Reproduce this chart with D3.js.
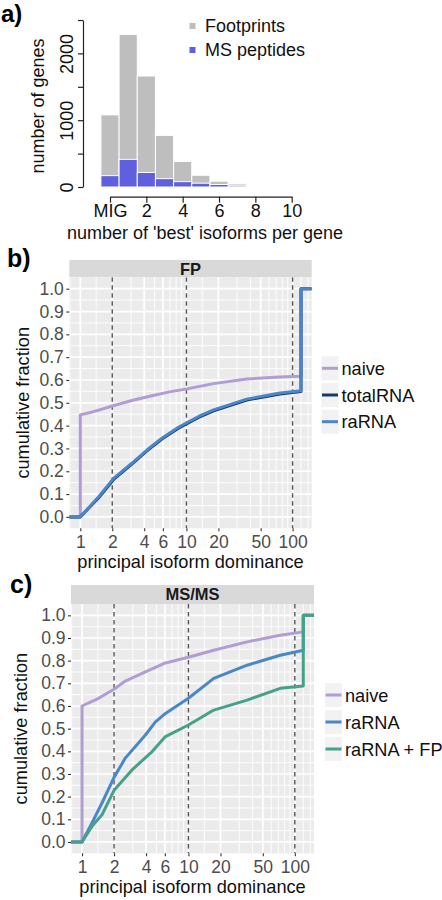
<!DOCTYPE html>
<html><head><meta charset="utf-8">
<script src="https://cdn.jsdelivr.net/npm/d3@7"></script>
<style>
html,body{margin:0;padding:0;background:#fff;}
text{font-family:"Liberation Sans",Arial,Helvetica,sans-serif;}
</style></head>
<body>
<svg id="chart" width="442" height="900"></svg>
<script>
// ---------- DATA ----------
// panel a
const barPositions = [0, 1, 2, 3, 4, 5, 6, 7];
const footprints = [1080, 2284, 1662, 773, 382, 176, 87, 55];
const msPeptides = [170, 414, 218, 125, 80, 57, 38, 22];
const aXTicks = [0, 2, 4, 6, 8, 10];
const aXTickLabels = ["MIG", "2", "4", "6", "8", "10"];
const aYTicks = [0, 500, 1000, 1500, 2000, 2500];
const aYTickLabels = ["0", "", "1000", "", "2000", ""];
const aLegend = ["Footprints", "MS peptides"];

// panels b / c shared axis
const logBreaks = [1, 2, 4, 6, 10, 20, 50, 100];
const logBreakLabels = ["1", "2", "4", "6", "10", "20", "50", "100"];
const logMinor = [0.8, 1.41, 3, 5, 7, 8, 9, 14.1, 30, 40, 60, 70, 80, 90, 120, 140];
const dashedAt = [2, 10, 100];
const yBreaks = [0, 0.1, 0.2, 0.3, 0.4, 0.5, 0.6, 0.7, 0.8, 0.9, 1.0];
const yMinor = [0.05, 0.15, 0.25, 0.35, 0.45, 0.55, 0.65, 0.75, 0.85, 0.95];
const capValue = 120;

// panel b (FP)
const fpNaive = [[1,0],[1,0.447],[1.3,0.46],[1.6,0.472],[2,0.486],[3.06,0.51],[4.72,0.531],[7.3,0.55],[10.4,0.562],[18,0.584],[37,0.604],[76,0.613],[120,0.616]];
const fpTotal = [[1,0],[1.49,0.084],[2.06,0.164],[3.06,0.231],[4.24,0.289],[5.87,0.341],[8.4,0.389],[13,0.436],[18,0.465],[37,0.512],[76,0.539],[120,0.549]];
const fpRaRNA = [[1,0],[1.49,0.088],[2.06,0.169],[3.06,0.235],[4.24,0.293],[5.87,0.345],[8.4,0.393],[13,0.44],[18,0.469],[37,0.516],[76,0.543],[120,0.553]];
const fpSeries = ["naive", "totalRNA", "raRNA"];

// panel c (MS/MS)
const msNaive = [[1,0],[1,0.6],[1.43,0.634],[1.98,0.673],[2.55,0.71],[3.94,0.751],[6.08,0.79],[10,0.815],[17.3,0.846],[35.6,0.883],[73,0.912],[120,0.927]];
const msRaRNA = [[1,0],[1.24,0.084],[1.54,0.172],[2,0.285],[2.55,0.37],[3.94,0.472],[4.9,0.53],[6.08,0.567],[10,0.634],[17.3,0.722],[35.6,0.78],[73,0.824],[120,0.846]];
const msRaFP  = [[1,0],[1.24,0.069],[1.54,0.12],[2,0.228],[2.95,0.318],[4.56,0.399],[6.08,0.465],[10,0.516],[17.3,0.582],[35.6,0.626],[73,0.678],[120,0.688]];
const msSeries = ["naive", "raRNA", "raRNA + FP"];

// ---------- STYLE ----------
const C = {gray:"#bebebe", blue:"#5f5fe0", naive:"#b09dd3", total:"#17396b", ra:"#4a87c9", raFP:"#45a189"};
const FONT = '"Liberation Sans",Arial,Helvetica,sans-serif';

const svg = d3.select("#chart");

// ---------- PANEL A ----------
const xA = d3.scaleLinear().domain([0, 10]).range([110, 291.7]);
const yA = d3.scaleLinear().domain([0, 2500]).range([187, 20]);
const gA = svg.append("g");
const bw = xA(1) - xA(0);
gA.selectAll("rect.fp").data(barPositions).join("rect")
  .attr("x", d => xA(d - 0.5)).attr("width", bw)
  .attr("y", (d,i) => yA(footprints[i])).attr("height", (d,i) => yA(0) - yA(footprints[i]))
  .attr("fill", C.gray).attr("stroke", "#fff").attr("stroke-width", 1)
  .attr("opacity", (d,i) => i === barPositions.length - 1 ? 0.55 : 1);
gA.selectAll("rect.ms").data(barPositions).join("rect")
  .attr("x", d => xA(d - 0.5)).attr("width", bw)
  .attr("y", (d,i) => yA(msPeptides[i])).attr("height", (d,i) => yA(0) - yA(msPeptides[i]))
  .attr("fill", C.blue).attr("stroke", "#fff").attr("stroke-width", 1)
  .attr("opacity", (d,i) => i === barPositions.length - 1 ? 0.3 : 1);

// y axis
const axYA = gA.append("g").attr("transform", "translate(83,0)")
  .call(d3.axisLeft(yA).tickValues(aYTicks).tickFormat((d,i) => aYTickLabels[i]).tickSize(5).tickSizeOuter(0));
axYA.select(".domain").attr("stroke", "#222").attr("stroke-width", 1.2);
axYA.selectAll(".tick line").attr("stroke", "#222").attr("stroke-width", 1.2);
axYA.selectAll(".tick text").attr("x", 0).attr("dy", 0).attr("text-anchor", "middle")
  .attr("transform", "translate(-10.5,0) rotate(-90)")
  .style("font-size", "18px").style("font-family", FONT).attr("fill", "#111");
// x axis
const axXA = gA.append("g").attr("transform", "translate(0,196.7)")
  .call(d3.axisBottom(xA).tickValues(aXTicks).tickFormat((d,i) => aXTickLabels[i]).tickSize(6).tickSizeOuter(0));
axXA.select(".domain").attr("stroke", "#222").attr("stroke-width", 1.2);
axXA.selectAll(".tick line").attr("stroke", "#222").attr("stroke-width", 1.2);
axXA.selectAll(".tick text").attr("y", 20.5).attr("dy", 0)
  .style("font-size", "18px").style("font-family", FONT).attr("fill", "#111");
gA.append("text").attr("transform", "translate(44,106) rotate(-90)").attr("text-anchor", "middle")
  .style("font-size", "18px").attr("fill", "#111").text("number of genes");
gA.append("text").attr("x", 205).attr("y", 238.5).attr("text-anchor", "middle")
  .style("font-size", "18px").attr("fill", "#111").text("number of 'best' isoforms per gene");
// legend
const legA = gA.append("g");
[[C.gray, 26], [C.blue, 50]].forEach((s, i) => {
  legA.append("rect").attr("x", 189.5).attr("y", s[1] - 3).attr("width", 6).attr("height", 6).attr("fill", s[0]);
  legA.append("text").attr("x", 205).attr("y", s[1] + 6.3).style("font-size", "18px").attr("fill", "#111").text(aLegend[i]);
});
svg.append("text").attr("x", 1).attr("y", 22).style("font-size", "24px").style("font-weight", "bold").text("a)");

// ---------- PANELS B/C ----------
function ecdfPanel(cfg) {
  const g = svg.append("g");
  const x = d3.scaleLog().domain([Math.pow(10, -0.1036), Math.pow(10, 2.18)]).range([cfg.left, cfg.right]);
  const y = d3.scaleLinear().domain([-0.05, 1.05]).range([cfg.bottom, cfg.top]);
  const clipId = "clip" + cfg.id;
  svg.append("clipPath").attr("id", clipId).append("rect")
    .attr("x", cfg.left).attr("y", cfg.top).attr("width", cfg.right - cfg.left).attr("height", cfg.bottom - cfg.top);
  // strip
  g.append("rect").attr("x", cfg.left).attr("y", cfg.stripTop).attr("width", cfg.right - cfg.left)
    .attr("height", cfg.top - cfg.stripTop).attr("fill", "#d9d9d9");
  g.append("text").attr("x", (cfg.left + cfg.right) / 2).attr("y", (cfg.stripTop + cfg.top) / 2).attr("dy", "0.36em")
    .attr("text-anchor", "middle").style("font-size", "16.5px").style("font-weight", "bold").attr("fill", "#1a1a1a").text(cfg.strip);
  // panel bg
  g.append("rect").attr("x", cfg.left).attr("y", cfg.top).attr("width", cfg.right - cfg.left)
    .attr("height", cfg.bottom - cfg.top).attr("fill", "#ebebeb");
  const pg = g.append("g").attr("clip-path", `url(#${clipId})`);
  // grid
  pg.selectAll("line.ymin").data(yMinor).join("line")
    .attr("x1", cfg.left).attr("x2", cfg.right).attr("y1", d => y(d)).attr("y2", d => y(d))
    .attr("stroke", "#fff").attr("stroke-width", 0.9);
  pg.selectAll("line.xmin").data(logMinor).join("line")
    .attr("y1", cfg.top).attr("y2", cfg.bottom).attr("x1", d => x(d)).attr("x2", d => x(d))
    .attr("stroke", "#fff").attr("stroke-width", 0.9);
  pg.selectAll("line.ymaj").data(yBreaks).join("line")
    .attr("x1", cfg.left).attr("x2", cfg.right).attr("y1", d => y(d)).attr("y2", d => y(d))
    .attr("stroke", "#fff").attr("stroke-width", 1.7);
  pg.selectAll("line.xmaj").data(logBreaks).join("line")
    .attr("y1", cfg.top).attr("y2", cfg.bottom).attr("x1", d => x(d)).attr("x2", d => x(d))
    .attr("stroke", "#fff").attr("stroke-width", 1.7);
  // dashed
  pg.selectAll("line.dash").data(dashedAt).join("line")
    .attr("y1", cfg.top).attr("y2", cfg.bottom).attr("x1", d => x(d)).attr("x2", d => x(d))
    .attr("stroke", "#555").attr("stroke-width", 1.4).attr("stroke-dasharray", "4.5,3.5");
  // lines
  const xmin = x.domain()[0], xmax = x.domain()[1];
  const line = d3.line().x(d => x(d[0])).y(d => y(d[1]));
  cfg.series.forEach(s => {
    const pts = [[xmin, 0]].concat(s.data, [[capValue, 1], [xmax, 1]]);
    pg.append("path").datum(pts).attr("d", line).attr("fill", "none")
      .attr("stroke", s.color).attr("stroke-width", 3).attr("stroke-linejoin", "round");
  });
  // y axis
  const ay = g.append("g").attr("transform", `translate(${cfg.left},0)`)
    .call(d3.axisLeft(y).tickValues(yBreaks).tickFormat(d3.format(".1f")).tickSize(3).tickPadding(2.5));
  ay.select(".domain").remove();
  ay.selectAll(".tick line").attr("stroke", "#333").attr("stroke-width", 1.1);
  ay.selectAll(".tick text").style("font-size", "17.5px").style("font-family", FONT).attr("fill", "#4d4d4d");
  // x axis
  const ax = g.append("g").attr("transform", `translate(0,${cfg.bottom})`)
    .call(d3.axisBottom(x).tickValues(logBreaks).tickFormat((d,i) => logBreakLabels[i]).tickSize(3));
  ax.select(".domain").remove();
  ax.selectAll(".tick line").attr("stroke", "#333").attr("stroke-width", 1.1);
  ax.selectAll(".tick text").attr("y", 20).attr("dy", 0)
    .style("font-size", "17.5px").style("font-family", FONT).attr("fill", "#4d4d4d");
  // titles
  g.append("text").attr("x", (cfg.left + cfg.right) / 2).attr("y", cfg.bottom + 40).attr("text-anchor", "middle")
    .style("font-size", "18.2px").attr("fill", "#111").text("principal isoform dominance");
  g.append("text").attr("transform", `translate(${cfg.ytitleX},${(cfg.top + cfg.bottom) / 2}) rotate(-90)`)
    .attr("text-anchor", "middle").style("font-size", "18.2px").attr("fill", "#111").text("cumulative fraction");
  // legend
  cfg.series.forEach((s, i) => {
    const cy = cfg.legTop + i * cfg.legStep;
    g.append("rect").attr("x", cfg.legX).attr("y", cy - 12).attr("width", 17).attr("height", 24).attr("fill", "#f2f2f2");
    g.append("line").attr("x1", cfg.legX + 0.5).attr("x2", cfg.legX + 16.5).attr("y1", cy).attr("y2", cy)
      .attr("stroke", s.color).attr("stroke-width", 3);
    g.append("text").attr("x", cfg.legX + 20).attr("y", cy).attr("dy", "0.36em")
      .style("font-size", "18.2px").attr("fill", "#111").text(s.name);
  });
  svg.append("text").attr("x", cfg.tagX).attr("y", cfg.tagY).style("font-size", "25px").style("font-weight", "bold").text(cfg.tag);
}

ecdfPanel({id: "b", left: 69.3, right: 311.7, top: 277.3, bottom: 528.3, stripTop: 260, strip: "FP",
  ytitleX: 28.5, legX: 321.5, legTop: 368.3, legStep: 26.7, tag: "b)", tagX: 7, tagY: 267,
  series: [{name: fpSeries[0], data: fpNaive, color: C.naive},
           {name: fpSeries[1], data: fpTotal, color: C.total},
           {name: fpSeries[2], data: fpRaRNA, color: C.ra}]});

ecdfPanel({id: "c", left: 71, right: 314, top: 604, bottom: 853.3, stripTop: 585, strip: "MS/MS",
  ytitleX: 27, legX: 325, legTop: 695, legStep: 27, tag: "c)", tagX: 10, tagY: 593,
  series: [{name: msSeries[0], data: msNaive, color: C.naive},
           {name: msSeries[1], data: msRaRNA, color: C.ra},
           {name: msSeries[2], data: msRaFP, color: C.raFP}]});
</script>
</body></html>
